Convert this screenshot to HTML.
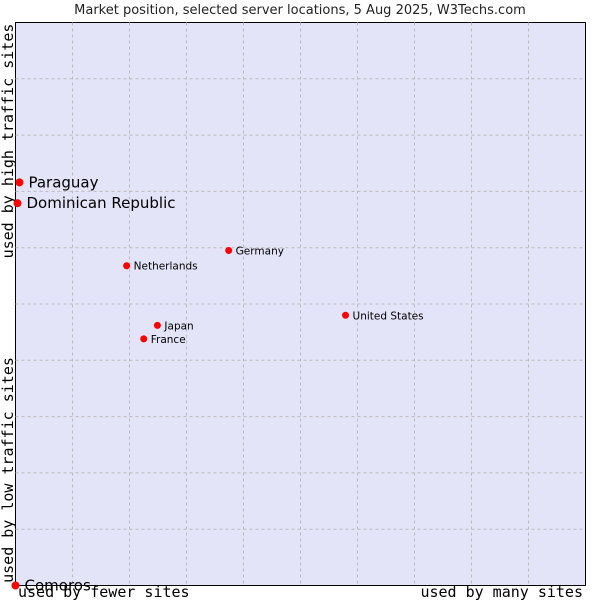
<!DOCTYPE html>
<html><head><meta charset="utf-8"><style>
body{margin:0;background:#fff;width:600px;height:600px;overflow:hidden}
</style></head><body>
<svg width="600" height="600" xmlns="http://www.w3.org/2000/svg">
<text x="300" y="14" text-anchor="middle" font-family="DejaVu Sans, sans-serif" font-size="13" fill="#222">Market position, selected server locations, 5 Aug 2025, W3Techs.com</text>
<rect x="15.5" y="22.5" width="570" height="563" fill="#e3e4f8" stroke="#000" stroke-width="1"/>
<g id="grid"></g>
<text transform="translate(13,470) rotate(-90)" text-anchor="middle" font-family="DejaVu Sans Mono, monospace" font-size="15" fill="#000">used by low traffic sites</text>
<text transform="translate(13,141) rotate(-90)" text-anchor="middle" font-family="DejaVu Sans Mono, monospace" font-size="15" fill="#000">used by high traffic sites</text>
<text x="18" y="597" font-family="DejaVu Sans Mono, monospace" font-size="15" fill="#000">used by fewer sites</text>
<text x="583" y="597" text-anchor="end" font-family="DejaVu Sans Mono, monospace" font-size="15" fill="#000">used by many sites</text>
<g id="points"></g>
</svg>
<script>
const names=["Paraguay","Dominican Republic","Germany","Netherlands","United States","Japan","France","Comoros"];
const xVals=[0.7,0.35,37.4,19.5,57.9,24.9,22.5,0];
const yVals=[71.6,67.9,59.5,56.8,48.0,46.2,43.8,0];
const bigLabel=[true,true,false,false,false,false,false,true];
const L=15.5,T=22.5,W=570,H=563;
const sx=v=>L+v/100*W, sy=v=>T+H-v/100*H;
const NS="http://www.w3.org/2000/svg";
const grid=document.getElementById('grid');
for(let i=1;i<10;i++){
  const v=document.createElementNS(NS,'line');
  
  
  v.setAttribute('x1',sx(i*10));v.setAttribute('x2',sx(i*10));v.setAttribute('y1',T);v.setAttribute('y2',T+H);
  v.setAttribute('stroke','#bbb');v.setAttribute('stroke-dasharray','3,3');grid.appendChild(v);
  const h=document.createElementNS(NS,'line');
  
  
  h.setAttribute('y1',sy(i*10));h.setAttribute('y2',sy(i*10));h.setAttribute('x1',L);h.setAttribute('x2',L+W);
  h.setAttribute('stroke','#bbb');h.setAttribute('stroke-dasharray','3,3');grid.appendChild(h);
}
const pts=document.getElementById('points');
names.forEach((n,i)=>{
  const x=sx(xVals[i]),y=sy(yVals[i]);
  const c=document.createElementNS(NS,'circle');
  
  
  c.setAttribute('cx',x);c.setAttribute('cy',y);c.setAttribute('r',bigLabel[i]?4:3.5);c.setAttribute('fill','#f00');
  pts.appendChild(c);
  const t=document.createElementNS(NS,'text');
  
  
  t.setAttribute('x',x+(bigLabel[i]?9:7));t.setAttribute('y',y+(bigLabel[i]?5:4));
  t.setAttribute('font-family','DejaVu Sans, sans-serif');t.setAttribute('font-size',bigLabel[i]?15:10.5);
  t.setAttribute('fill','#000');t.textContent=n;pts.appendChild(t);
});
</script>
</body></html>
